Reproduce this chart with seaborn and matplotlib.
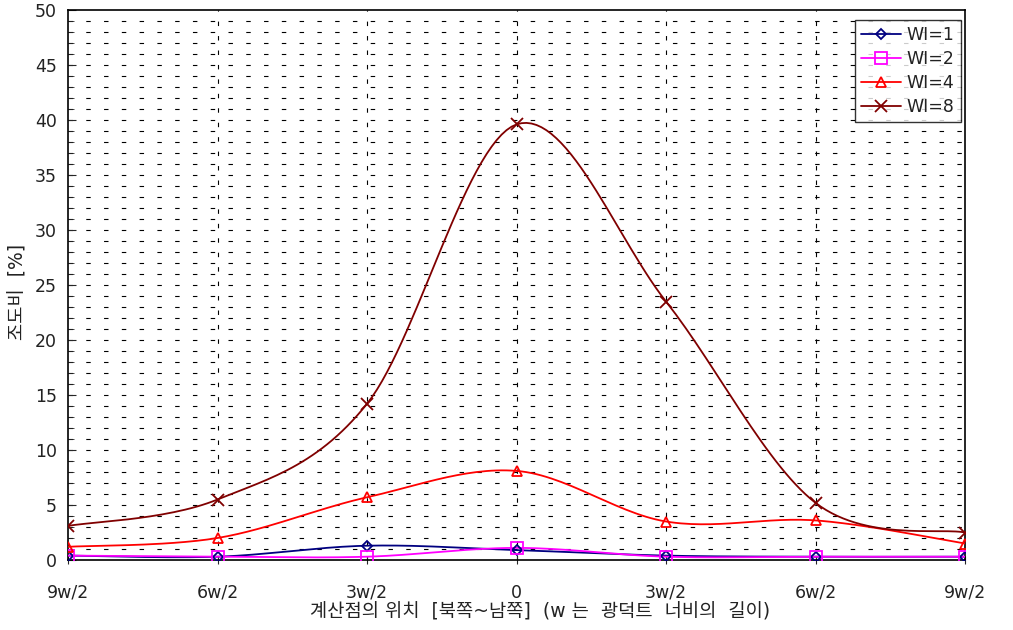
import numpy as np
import pandas as pd
import matplotlib
matplotlib.use("Agg")
import matplotlib.pyplot as plt
import seaborn as sns
from matplotlib.lines import Line2D

sns.set_style("white")
plt.rcParams['font.family'] = ['DejaVu Sans', 'Noto Sans CJK KR']
plt.rcParams['text.color'] = '#222222'
plt.rcParams['axes.labelcolor'] = '#222222'
plt.rcParams['xtick.labelcolor'] = '#222222'
plt.rcParams['ytick.labelcolor'] = '#222222'

positions = ["9w/2", "6w/2", "3w/2", "0", "3w/2", "6w/2", "9w/2"]
wi1 = [0.4, 0.3, 1.3, 0.9, 0.4, 0.3, 0.3]
wi2 = [0.4, 0.3, 0.3, 1.1, 0.3, 0.3, 0.3]
wi4 = [1.2, 2.0, 5.7, 8.1, 3.5, 3.6, 1.5]
wi8 = [3.1, 5.5, 14.2, 39.6, 23.5, 5.2, 2.5]
series_names = ["WI=1", "WI=2", "WI=4", "WI=8"]
series_vals = [wi1, wi2, wi4, wi8]
colors = ["#000080", "#FF00FF", "#FF0000", "#800000"]
markers = ["D", "s", "^", "x"]
msizes = [5, 8, 7, 8]

x = np.arange(len(positions))

def smooth(xs, ys, n=30):
    # Catmull-Rom style curve (display smoothing only)
    xs = np.asarray(xs, float); ys = np.asarray(ys, float)
    P = np.column_stack([xs, ys])
    P = np.vstack([P[0], P, P[-1]])
    out = []
    for i in range(1, len(P) - 2):
        p0, p1, p2, p3 = P[i-1], P[i], P[i+1], P[i+2]
        c1 = p1 + (p2 - p0) / 6
        c2 = p2 - (p3 - p1) / 6
        t = np.linspace(0, 1, n, endpoint=(i == len(P) - 3))[:, None]
        b = (1-t)**3*p1 + 3*(1-t)**2*t*c1 + 3*(1-t)*t**2*c2 + t**3*p2
        out.append(b)
    out = np.vstack(out)
    return out[:, 0], out[:, 1]

fig = plt.figure(figsize=(10.13, 6.3), dpi=100)
ax = fig.add_axes([68/1013, 70/630, (965-68)/1013, 550/630])

# grid
for yv in range(1, 50):
    ax.axhline(yv, color="black", lw=0.8, ls=(0, (4, 12)), zorder=0)
for xv in x[1:-1]:
    ax.axvline(xv, color="black", lw=0.8, ls=(0, (4, 9)), zorder=0)

rows = []
for name, vals in zip(series_names, series_vals):
    sx, sy = smooth(x, vals)
    rows.append(pd.DataFrame({"x": sx, "y": sy, "s": name}))
df_s = pd.concat(rows)
pal = dict(zip(series_names, colors))
sns.lineplot(data=df_s, x="x", y="y", hue="s", units="s", estimator=None, sort=False,
             palette=pal, lw=1.3, legend=False, ax=ax, zorder=3)

for name, vals, c, m, ms in zip(series_names, series_vals, colors, markers, msizes):
    dfp = pd.DataFrame({"x": x, "y": vals})
    if m == "x":
        ax.plot(dfp.x, dfp.y, ls="none", marker=m, ms=ms, mec=c, mew=1.3, zorder=4)
    else:
        ax.plot(dfp.x, dfp.y, ls="none", marker=m, ms=ms, mfc="none", mec=c, mew=1.3, zorder=4)

ax.set_xlim(0, len(positions) - 1)
ax.set_ylim(0, 50)
ax.set_yticks(range(0, 51, 5))
ax.set_yticks(range(0, 51, 1), minor=True)
ax.set_xticks(x)
ax.set_xticklabels(positions)
ax.tick_params(axis="y", which="major", direction="in", length=6, labelsize=12.5, pad=8, left=True)
ax.tick_params(axis="y", which="minor", direction="in", length=4, left=True)
ax.tick_params(axis="x", which="major", direction="inout", length=6, labelsize=12.5, pad=14, bottom=True)
for s in ax.spines.values():
    s.set_color("black"); s.set_linewidth(1.2)

ax.set_xlabel("계산점의 위치  [북쪽~남쪽]  (w 는  광덕트  너비의  길이)", fontsize=13.5)
ax.xaxis.set_label_coords((540 - 68) / 897, -(612 - 560) / 550)
ax.xaxis.label.set_va("center")
ax.set_ylabel("조도비  [%]", fontsize=13.5)
ax.yaxis.set_label_coords(-(68 - 18) / 897, (560 - 292) / 550)
ax.yaxis.label.set_va("center")

handles = [Line2D([0], [0], color=c, marker=m, ms=ms if m != "D" else 5,
                  mfc="none" if m != "x" else c, mec=c, mew=1.3, lw=1.3)
           for c, m, ms in zip(colors, markers, msizes)]
leg = ax.legend(handles, series_names, loc="upper right", bbox_to_anchor=(0.995, 0.982),
                fontsize=12.5, frameon=True, fancybox=False, edgecolor="black",
                handlelength=2.3, borderpad=0.35, labelspacing=0.35, handletextpad=0.3,
                borderaxespad=0.0)
leg.get_frame().set_linewidth(1.0)

fig.savefig("out.png", dpi=100)
